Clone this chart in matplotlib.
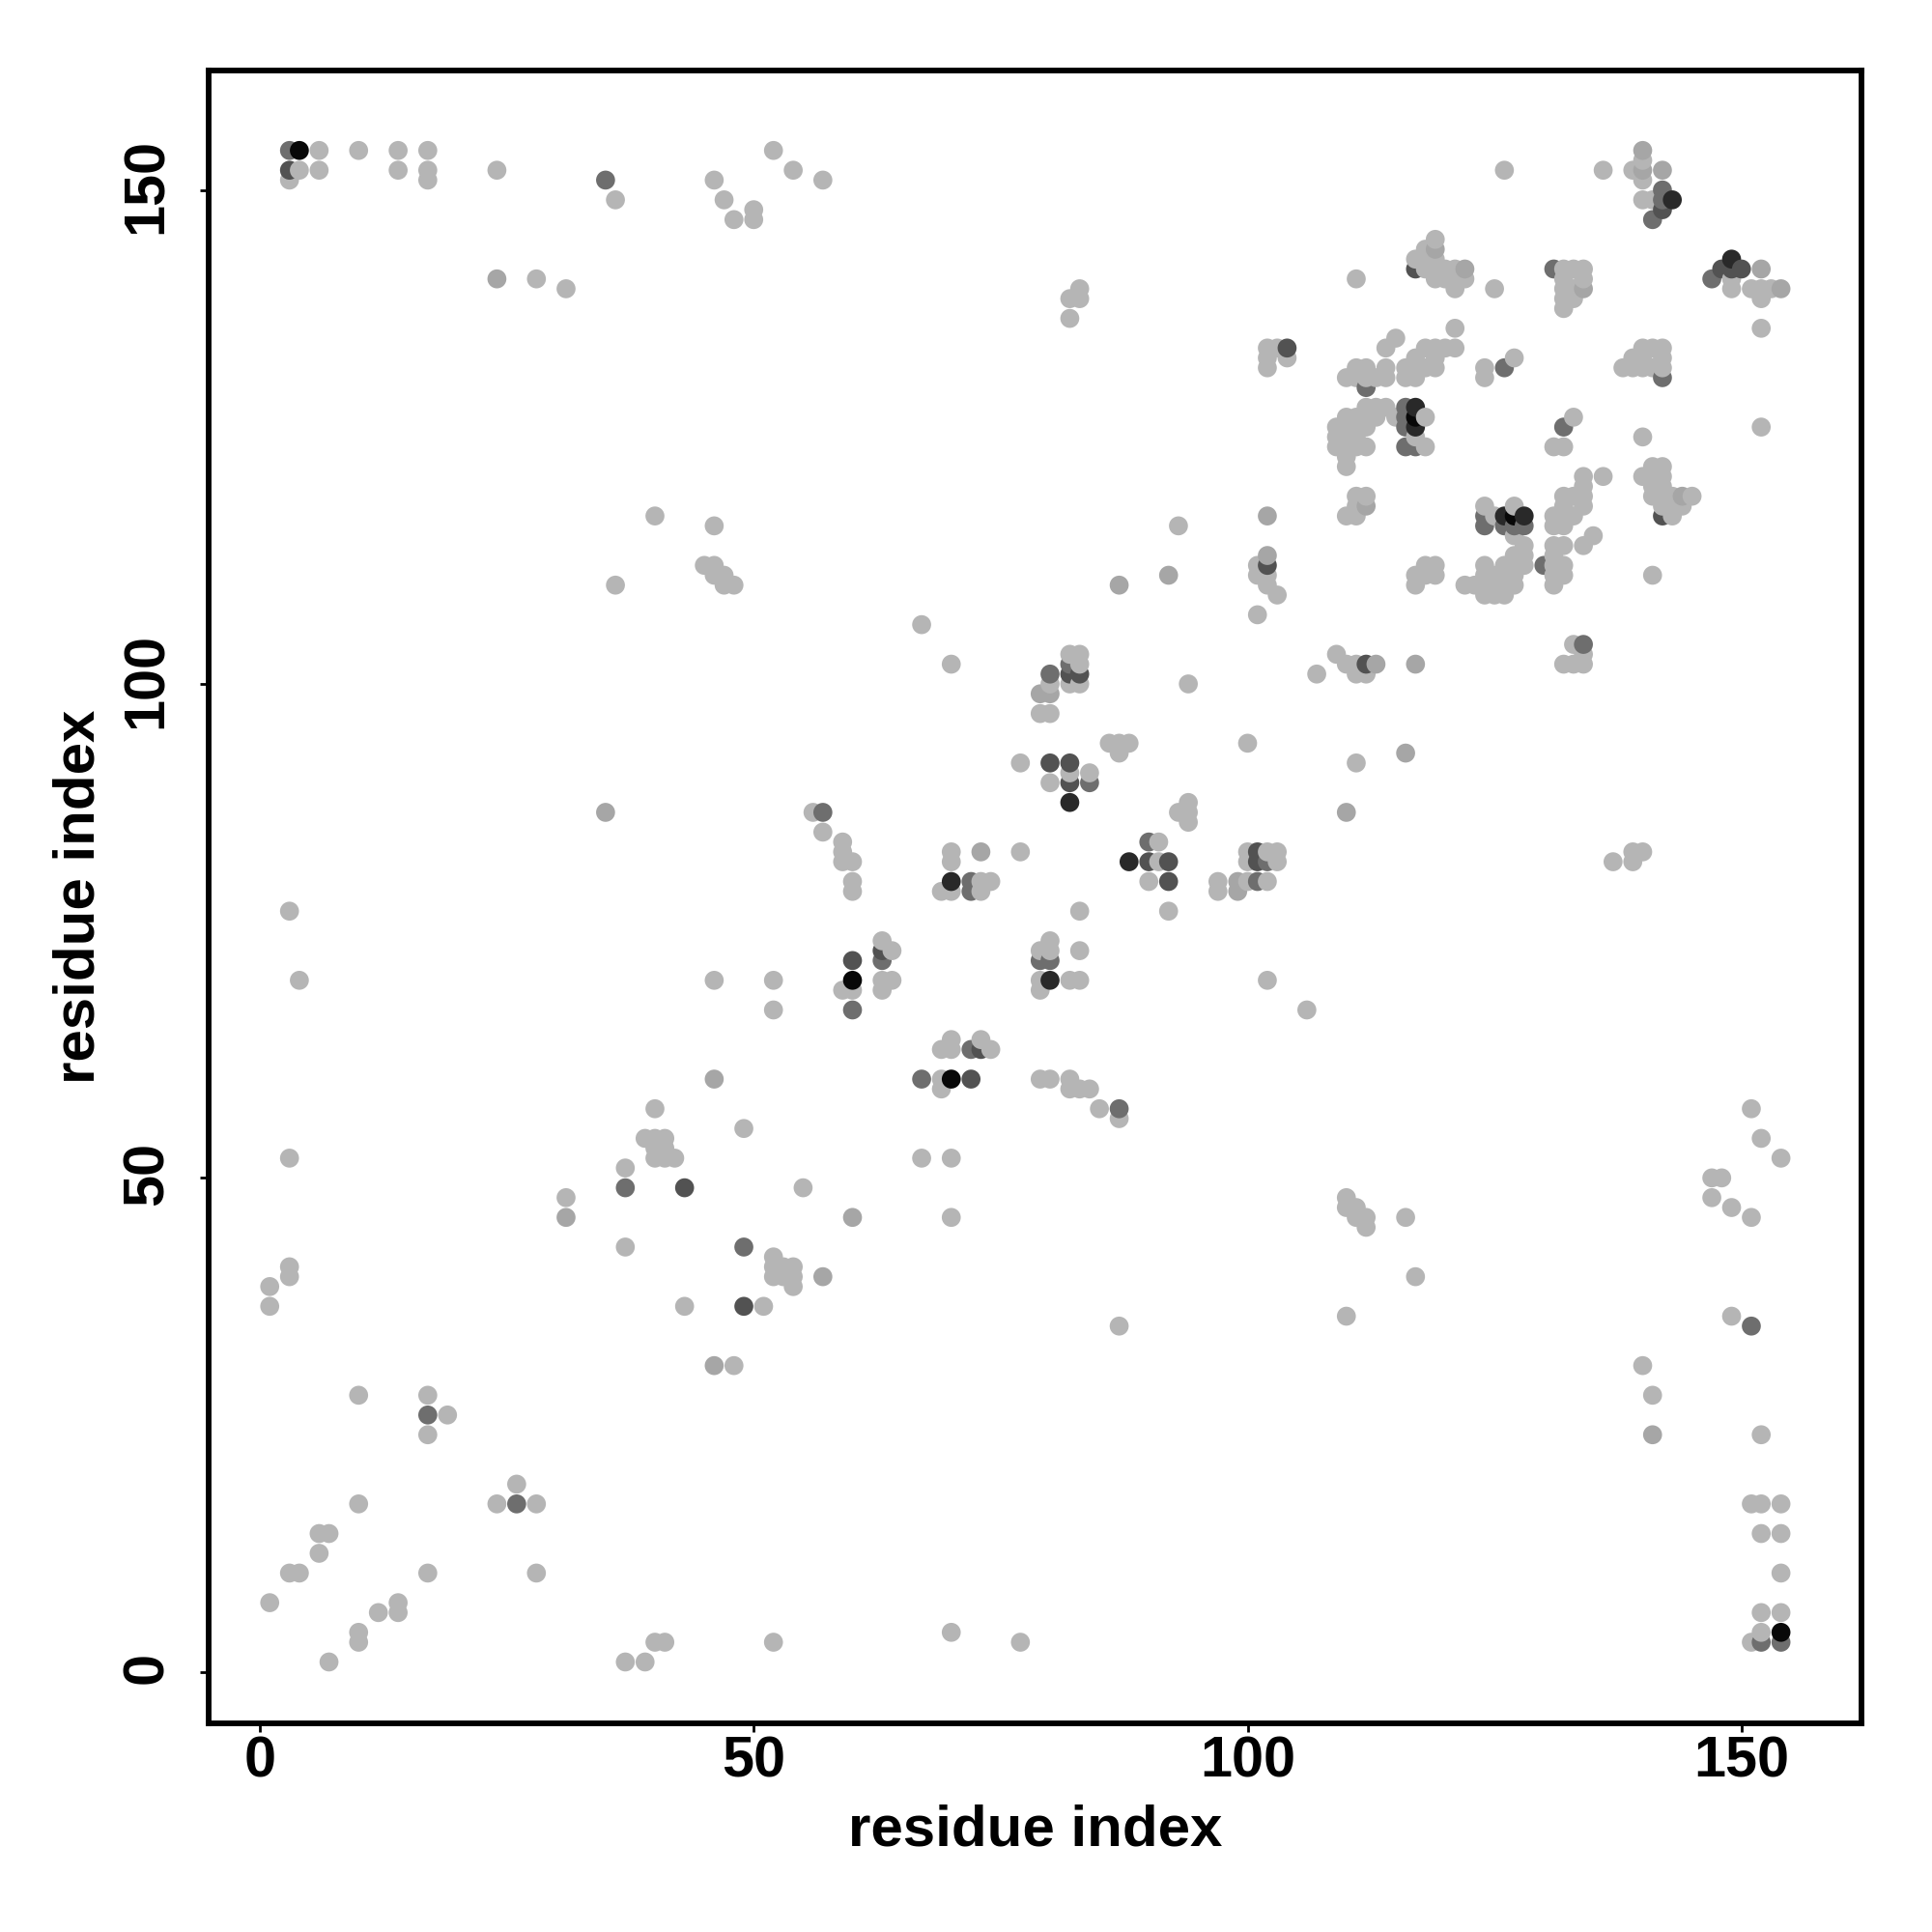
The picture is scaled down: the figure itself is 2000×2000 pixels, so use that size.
import numpy as np
import matplotlib
matplotlib.use("Agg")
import matplotlib.pyplot as plt
from matplotlib.transforms import ScaledTranslation

plt.rcParams['font.family'] = ['Liberation Sans', 'DejaVu Sans']

x_ticks = [0, 50, 100, 150]
y_ticks = [0, 50, 100, 150]
x_title = "residue index"
y_title = "residue index"

black_pts = [(4,154),(117,127),(127,117),(60,70),(70,60),(154,4)]
darker_pts = [(149,143),(143,149),(117,128),(117,126),(126,117),(128,117),(88,82),(82,88),(80,70),(70,80)]
dark_pts = [(3,152),(117,142),(148,142),(149,142),(150,142),(142,148),(142,117),(102,112),(112,102),(104,134),
            (80,92),(82,92),(82,90),(82,101),(83,101),(90,82),(92,82),(92,80),(101,83),(101,82),(60,72),(63,73),
            (73,63),(72,60),(43,49),(49,37)]
mid_pts = [(3,154),(35,151),(17,26),(26,17),(37,49),(49,43),(57,87),(87,57),(67,60),(60,67),(72,79),(72,80),
           (63,72),(79,72),(80,72),(84,90),(82,102),(80,101),(90,84),(72,63),(131,142),(147,141),(141,147),
           (142,150),(142,149),(142,131),(126,132),(132,126),(112,130),(116,128),(116,127),(116,126),(116,124),
           (117,124),(124,117),(124,116),(126,116),(127,116),(128,116),(130,112),(134,104),(102,82),(101,80),
           (151,35),(152,3),(154,3)]
soft_pts = [(24,141),(154,140),(152,142),(140,154),(140,152),(142,152),(122,142),(119,144),(134,140),(112,118),
            (144,119),(102,117),(102,113),(79,99),(80,99),(99,80),(99,79),(110,87),(116,93),(117,102),(113,102),
            (73,83),(92,111),(87,110),(35,87),(46,60),(46,31),(60,46),(31,46),(57,40),(141,24)]
light_pts = [(6,154),(10,154),(14,154),(17,154),(52,154),(140,153),
 (4,152),(6,152),(14,152),(17,152),(24,152),(54,152),(126,152),(136,152),(139,152),
 (3,151),(17,151),(46,151),(57,151),(140,151),(36,149),(47,149),(140,149),(141,149),(50,148),(48,147),(50,147),
 (119,145),(118,144),(117,143),(118,143),(119,143),(118,142),(119,142),(120,142),(121,142),(132,142),(133,142),(134,142),
 (28,141),(111,141),(119,141),(120,141),(121,141),(122,141),(132,141),(134,141),(149,141),
 (31,140),(83,140),(121,140),(125,140),(132,140),(133,140),(149,140),(151,140),(152,140),(153,140),
 (82,139),(83,139),(132,139),(133,139),(152,139),(132,138),(82,137),(121,136),(152,136),(115,135),
 (102,134),(103,134),(114,134),(118,134),(119,134),(120,134),(121,134),(140,134),(141,134),(142,134),
 (102,133),(104,133),(117,133),(119,133),(127,133),(139,133),(140,133),(142,133),
 (102,132),(111,132),(112,132),(114,132),(116,132),(117,132),(118,132),(119,132),(124,132),(138,132),(139,132),(140,132),(141,132),(142,132),
 (110,131),(111,131),(112,131),(113,131),(114,131),(116,131),(117,131),(124,131),
 (112,128),(113,128),(114,128),(110,127),(111,127),(112,127),(113,127),(115,127),(118,127),(133,127),
 (109,126),(110,126),(111,126),(112,126),(152,126),(109,125),(110,125),(111,125),(117,125),(140,125),
 (109,124),(110,124),(111,124),(112,124),(118,124),(131,124),(132,124),(110,123),(110,122),(141,122),(142,122),
 (134,121),(136,121),(140,121),(141,121),(142,121),(134,120),(141,120),(142,120),
 (111,119),(112,119),(132,119),(133,119),(134,119),(141,119),(142,119),(143,119),(145,119),
 (111,118),(124,118),(127,118),(132,118),(134,118),(142,118),(143,118),(144,118),
 (40,117),(110,117),(111,117),(125,117),(131,117),(132,117),(133,117),(143,117),
 (46,116),(93,116),(131,116),(132,116),(127,115),(135,115),(128,114),(131,114),(132,114),(134,114),
 (127,113),(128,113),(131,113),(45,112),(46,112),(101,112),(118,112),(119,112),(124,112),(126,112),(127,112),(128,112),(131,112),(132,112),
 (46,111),(47,111),(101,111),(102,111),(117,111),(118,111),(119,111),(124,111),(125,111),(126,111),(127,111),(131,111),(132,111),(141,111),
 (36,110),(47,110),(48,110),(102,110),(117,110),(122,110),(123,110),(124,110),(125,110),(126,110),(127,110),(131,110),
 (103,109),(124,109),(125,109),(126,109),(101,107),(67,106),(133,104),(82,103),(83,103),(109,103),(134,103),
 (70,102),(83,102),(110,102),(111,102),(132,102),(133,102),(134,102),(107,101),(111,101),(112,101),
 (80,100),(82,100),(83,100),(94,100),(79,97),(80,97),(86,94),(87,94),(88,94),(100,94),(87,93),(77,92),(111,92),
 (82,91),(84,91),(80,90),(94,88),(56,87),(93,87),(94,87),(94,86),(57,85),(59,84),(91,84),
 (59,83),(70,83),(77,83),(100,83),(102,83),(103,83),(139,83),(140,83),
 (59,82),(60,82),(70,82),(91,82),(100,82),(103,82),(137,82),(139,82),
 (60,80),(73,80),(74,80),(90,80),(97,80),(100,80),(102,80),(60,79),(69,79),(70,79),(73,79),(97,79),
 (3,77),(83,77),(92,77),(63,74),(80,74),(64,73),(79,73),(80,73),(83,73),
 (4,70),(46,70),(52,70),(63,70),(64,70),(79,70),(82,70),(83,70),(102,70),(59,69),(60,69),(63,69),(79,69),
 (52,67),(106,67),(70,64),(73,64),(69,63),(70,63),(74,63),(69,60),(79,60),(80,60),(82,60),
 (69,59),(82,59),(83,59),(84,59),(40,57),(85,57),(151,57),(87,56),(49,55),(39,54),(40,54),(41,54),(152,54),
 (40,53),(41,53),(3,52),(40,52),(41,52),(42,52),(67,52),(70,52),(154,52),(37,51),(147,50),(148,50),(55,49),
 (31,48),(110,48),(147,48),(110,47),(111,47),(149,47),(70,46),(111,46),(112,46),(116,46),(151,46),(112,45),
 (37,43),(52,42),(3,41),(52,41),(53,41),(54,41),(3,40),(52,40),(53,40),(54,40),(117,40),(1,39),(54,39),
 (1,37),(43,37),(51,37),(110,36),(149,36),(87,35),(48,31),(140,31),(10,28),(17,28),(141,28),(19,26),
 (17,24),(152,24),(26,19),(10,17),(24,17),(28,17),(151,17),(152,17),(154,17),(6,14),(7,14),(152,14),(154,14),
 (6,12),(3,10),(4,10),(17,10),(28,10),(154,10),(1,7),(14,7),(12,6),(14,6),(152,6),(154,6),(10,4),(70,4),(152,4),
 (10,3),(40,3),(41,3),(52,3),(77,3),(151,3),(7,1),(37,1),(39,1)]

groups = [(light_pts, 0.71), (soft_pts, 0.65), (mid_pts, 0.43), (dark_pts, 0.32), (darker_pts, 0.16), (black_pts, 0.03)]
xs = np.array([p[0] for g, _ in groups for p in g])
ys = np.array([p[1] for g, _ in groups for p in g])
gs = np.array([v for g, v in groups for _ in g])
order = np.lexsort((ys, xs))

fig = plt.figure(figsize=(10, 10), dpi=200)
L, R, T, B = 216, 1927, 73, 1784
ax = fig.add_axes([L/2000, 1-B/2000, (R-L)/2000, (B-T)/2000])
ax.scatter(xs[order], ys[order], s=50, c=[str(g) for g in gs[order]], linewidths=0, clip_on=True)
ax.set_xlim((L-269.0)/10.225, (R-269.0)/10.225)
ax.set_ylim((1730.7-B)/10.227, (1730.7-T)/10.227)
ax.set_xticks(x_ticks)
ax.set_yticks(y_ticks)
ax.tick_params(axis='x', length=3.2, width=1.0, pad=1.2, labelsize=21.4)
ax.tick_params(axis='y', length=3.2, width=1.0, pad=9.7, labelsize=21.4)
shift = ScaledTranslation(0, 4/200, fig.dpi_scale_trans)
for t in ax.get_xticklabels():
    t.set_fontweight('bold')
for t in ax.get_yticklabels():
    t.set_fontweight('bold')
    t.set_rotation(90)
    t.set_va('center')
    t.set_transform(t.get_transform() + shift)
for s in ax.spines.values():
    s.set_linewidth(2.1)
ax.set_xlabel(x_title, fontsize=21.6, fontweight='bold')
ax.set_ylabel(y_title, fontsize=21.6, fontweight='bold')
ax.xaxis.set_label_coords(0.5, -(1895-B)/(B-T), transform=ax.transAxes)
ax.xaxis.label.set_va('center')
ax.yaxis.set_label_coords(-(L-82)/(R-L), 0.5, transform=ax.transAxes)
ax.yaxis.label.set_va('center')
fig.savefig("out.png", dpi=200, facecolor='white')
